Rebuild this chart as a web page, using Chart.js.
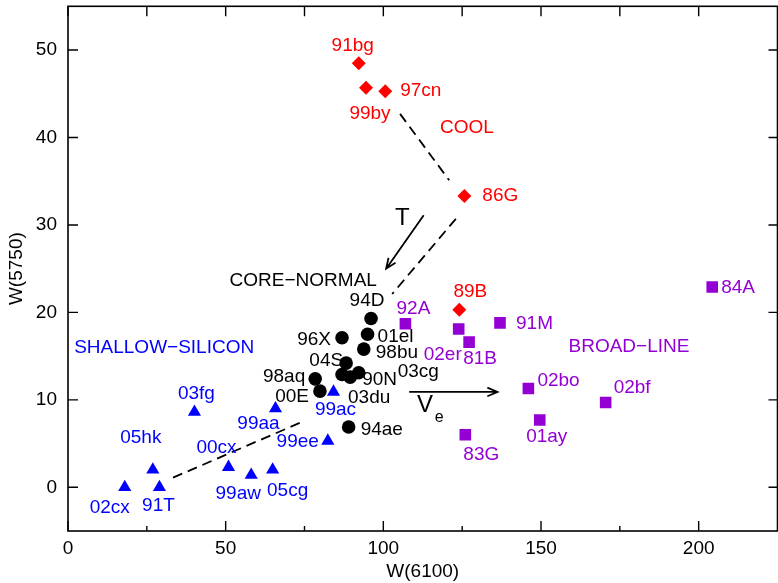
<!DOCTYPE html>
<html>
<head>
<meta charset="utf-8">
<script src="https://cdn.jsdelivr.net/npm/chart.js@4/dist/chart.umd.min.js"></script>
<style>
  body { margin: 0; background: #fff; }
  canvas { display: block; }
</style>
</head>
<body>
<canvas id="chart" width="778" height="583" style="width:778px;height:583px"></canvas>
<script>
// data
const xTicks = [0, 50, 100, 150, 200];
const yTicks = [0, 10, 20, 30, 40, 50];

const coolNames = ['91bg', '99by', '97cn', '86G', '89B'];
const coolX = [92.2, 94.5, 100.6, 125.7, 124.1];
const coolY = [48.5, 45.7, 45.3, 33.3, 20.3];

const normalNames = ['94D', '01el', '96X', '98bu', '04S', '03cg', '03du', '90N', '98aq', '00E', '94ae'];
const normalX = [96.1, 95.0, 86.9, 93.8, 88.2, 92.2, 86.9, 89.5, 78.4, 79.9, 89.0];
const normalY = [19.3, 17.5, 17.1, 15.8, 14.2, 13.1, 12.9, 12.6, 12.4, 11.0, 6.9];

const shallowNames = ['02cx', '91T', '05hk', '03fg', '00cx', '99aw', '05cg', '99aa', '99ee', '99ac'];
const shallowX = [18.0, 29.0, 26.9, 40.1, 50.9, 58.1, 64.9, 65.8, 82.4, 84.2];
const shallowY = [0.0, 0.0, 2.0, 8.6, 2.3, 1.4, 2.0, 9.0, 5.3, 10.9];

const broadNames = ['92A', '02er', '81B', '91M', '02bo', '01ay', '83G', '02bf', '84A'];
const broadX = [107.0, 123.9, 127.2, 137.0, 146.0, 149.6, 126.0, 170.5, 204.3];
const broadY = [18.7, 18.1, 16.6, 18.8, 11.3, 7.7, 6.0, 9.7, 22.9];

// where each name sits next to its marker: [dx, dy, align] in pixels
const labelPlace = {
  '91bg': [-6, -17, 'center'], '99by': [4, 26, 'center'], '97cn': [15, 0, 'left'],
  '86G': [18, 0, 'left'], '89B': [11, -18, 'center'],
  '02cx': [-15, 20, 'center'], '91T': [-1, 18, 'center'], '05hk': [-12, -32, 'center'],
  '03fg': [2, -18, 'center'], '00cx': [-12, -19, 'center'], '99aw': [-13, 19, 'center'],
  '05cg': [15, 21, 'center'], '99aa': [-17, 15, 'center'], '99ee': [-9, 1, 'right'],
  '99ac': [2, 18, 'center'],
  '94D': [-4, -18, 'center'], '01el': [10, 3, 'left'], '96X': [-11, 2, 'right'],
  '98bu': [12, 4, 'left'], '04S': [-3, -2, 'right'], '03cg': [39, -1, 'left'],
  '03du': [6, 23, 'left'], '90N': [12, 3, 'left'], '98aq': [-10, -2, 'right'],
  '00E': [-11, 6, 'right'], '94ae': [12, 3, 'left'],
  '92A': [8, -15, 'center'], '02er': [-16, 26, 'center'], '81B': [11, 17, 'center'],
  '91M': [16, 1, 'left'], '02bo': [9, -8, 'left'], '01ay': [7, 17, 'center'],
  '83G': [16, 20, 'center'], '02bf': [8, -15, 'left'], '84A': [9, 1, 'left']
};

// annotations, in data units
const dashedLines = [
  [105.3, 42.7, 120.9, 35.1],
  [123.0, 30.7, 102.8, 22.1],
  [33.3, 1.1, 75.0, 7.6]
];
const arrows = [
  [112.8, 31.1, 100.9, 25.0],
  [108.2, 10.9, 136.2, 10.9]
];
const notes = [
  ['COOL', 126.5, 41.1, '#ff0000', 19],
  ['CORE\u2212NORMAL', 74.6, 23.6, '#000000', 19],
  ['SHALLOW\u2212SILICON', 30.5, 15.9, '#0000ff', 19],
  ['BROAD\u2212LINE', 177.9, 16.1, '#9400d3', 19],
  ['T', 106.0, 30.7, '#000000', 24],
  ['V', 113.2, 9.4, '#000000', 24],
  ['e', 117.7, 8.0, '#000000', 16]
];

const FONT = '"Liberation Sans", Arial, Helvetica, sans-serif';
Chart.defaults.font.family = FONT;
Chart.defaults.font.size = 19;
Chart.defaults.color = '#000';

function pts(xs, ys) {
  return xs.map((x, i) => ({ x: x, y: ys[i] }));
}

const marksPlugin = {
  id: 'marks',
  beforeDatasetsDraw(chart) {
    const { ctx } = chart;
    const xs = chart.scales.x, ys = chart.scales.y;
    ctx.save();
    ctx.strokeStyle = '#000';
    ctx.lineWidth = 1.8;
    ctx.setLineDash([10, 6]);
    dashedLines.forEach(([x0, y0, x1, y1]) => {
      ctx.beginPath();
      ctx.moveTo(xs.getPixelForValue(x0), ys.getPixelForValue(y0));
      ctx.lineTo(xs.getPixelForValue(x1), ys.getPixelForValue(y1));
      ctx.stroke();
    });
    ctx.setLineDash([]);
    arrows.forEach(([x0, y0, x1, y1]) => {
      const ax = xs.getPixelForValue(x0), ay = ys.getPixelForValue(y0);
      const bx = xs.getPixelForValue(x1), by = ys.getPixelForValue(y1);
      const ang = Math.atan2(by - ay, bx - ax);
      const head = 11, spread = 0.4;
      ctx.beginPath();
      ctx.moveTo(ax, ay);
      ctx.lineTo(bx, by);
      ctx.moveTo(bx - head * Math.cos(ang - spread), by - head * Math.sin(ang - spread));
      ctx.lineTo(bx, by);
      ctx.lineTo(bx - head * Math.cos(ang + spread), by - head * Math.sin(ang + spread));
      ctx.stroke();
    });

    ctx.textBaseline = 'middle';
    notes.forEach(([txt, x, y, color, size]) => {
      ctx.font = size + 'px ' + FONT;
      ctx.fillStyle = color;
      ctx.textAlign = 'center';
      ctx.fillText(txt, xs.getPixelForValue(x), ys.getPixelForValue(y));
    });

    ctx.font = '19px ' + FONT;
    chart.data.datasets.forEach((ds, i) => {
      const meta = chart.getDatasetMeta(i);
      ctx.fillStyle = ds.labelColor;
      meta.data.forEach((el, j) => {
        const name = ds.names[j];
        const [dx, dy, align] = labelPlace[name];
        ctx.textAlign = align;
        ctx.fillText(name, el.x + dx, el.y + dy);
      });
    });
    ctx.restore();
  },
  afterDraw(chart) {
    const { ctx, chartArea: a } = chart;
    const xs = chart.scales.x, ys = chart.scales.y;
    ctx.save();
    ctx.strokeStyle = '#000';
    ctx.lineWidth = 1.6;
    ctx.strokeRect(a.left, a.top, a.right - a.left, a.bottom - a.top);
    ctx.beginPath();
    for (let v = 0; v < 225; v += 25) {
      const p = xs.getPixelForValue(v);
      const major = v % 50 === 0;
      ctx.moveTo(p, a.bottom);
      ctx.lineTo(p, a.bottom - (major ? 10 : 5));
      ctx.moveTo(p, a.top);
      ctx.lineTo(p, a.top + 10);
    }
    yTicks.forEach(v => {
      const p = ys.getPixelForValue(v);
      ctx.moveTo(a.left, p);
      ctx.lineTo(a.left + 10, p);
      ctx.moveTo(a.right, p);
      ctx.lineTo(a.right - 9, p);
    });
    ctx.lineWidth = 1.4;
    ctx.stroke();
    ctx.restore();
  }
};

new Chart(document.getElementById('chart').getContext('2d'), {
  type: 'scatter',
  data: {
    datasets: [
      {
        names: coolNames, labelColor: '#ff0000',
        data: pts(coolX, coolY),
        pointStyle: 'rectRot', pointRadius: 7, borderWidth: 0,
        backgroundColor: '#ff0000'
      },
      {
        names: normalNames, labelColor: '#000000',
        data: pts(normalX, normalY),
        pointStyle: 'circle', pointRadius: 6.8, borderWidth: 0,
        backgroundColor: '#000000'
      },
      {
        names: shallowNames, labelColor: '#0000ff',
        data: pts(shallowX, shallowY),
        pointStyle: 'triangle', pointRadius: 7.6, borderWidth: 0,
        backgroundColor: '#0000ff'
      },
      {
        names: broadNames, labelColor: '#9400d3',
        data: pts(broadX, broadY),
        pointStyle: 'rect', pointRadius: 8.2, borderWidth: 0,
        backgroundColor: '#9400d3'
      }
    ]
  },
  options: {
    responsive: false,
    animation: false,
    layout: { autoPadding: false, padding: { top: 6.3, right: 0.5, left: 0, bottom: 0 } },
    plugins: { legend: { display: false }, tooltip: { enabled: false } },
    scales: {
      x: {
        type: 'linear', min: 0, max: 225,
        grid: { display: false, drawTicks: false },
        border: { display: false },
        afterBuildTicks: s => { s.ticks = xTicks.map(v => ({ value: v })); },
        afterFit: s => { s.height = 52; s.paddingLeft = 0; s.paddingRight = 0; },
        ticks: { padding: 6, maxRotation: 0, autoSkip: false, color: '#000' },
        title: { display: true, text: 'W(6100)', color: '#000', padding: { top: 0, bottom: 0 } }
      },
      y: {
        type: 'linear', min: -5, max: 55,
        grid: { display: false, drawTicks: false },
        border: { display: false },
        afterBuildTicks: s => { s.ticks = yTicks.map(v => ({ value: v })); },
        afterFit: s => { s.width = 68; s.paddingTop = 0; s.paddingBottom = 0; },
        ticks: { padding: 11, autoSkip: false, color: '#000' },
        title: { display: true, text: 'W(5750)', color: '#000', padding: { top: 5.5, bottom: 0 } }
      }
    }
  },
  plugins: [marksPlugin]
});
</script>
</body>
</html>
